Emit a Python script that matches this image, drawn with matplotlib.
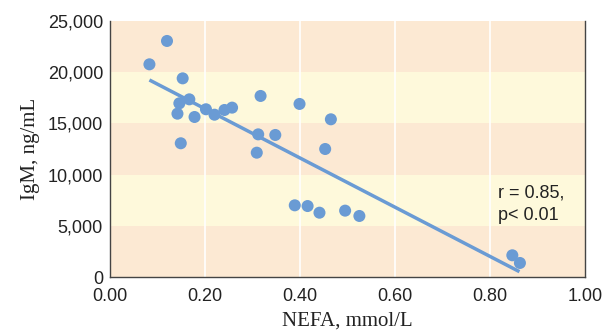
import matplotlib
matplotlib.use("Agg")
import matplotlib.pyplot as plt
from matplotlib.ticker import FuncFormatter

# Data
nefa = [0.083, 0.120, 0.153, 0.146, 0.167, 0.142, 0.178, 0.149, 0.202, 0.220,
        0.241, 0.257, 0.317, 0.312, 0.309, 0.348, 0.399, 0.465, 0.453, 0.389,
        0.416, 0.441, 0.495, 0.525, 0.847, 0.863]
igm = [20770, 23050, 19400, 16960, 17350, 15950, 15625, 13060, 16380, 15850,
       16310, 16540, 17680, 13930, 12140, 13870, 16900, 15400, 12500, 7000,
       6930, 6280, 6480, 5960, 2120, 1370]
fit_x = [0.083, 0.862]
fit_y = [19240, 520]
y_ticks = [0, 5000, 10000, 15000, 20000, 25000]
x_ticks = [0.0, 0.2, 0.4, 0.6, 0.8, 1.0]
bands = [(0, 5000), (5000, 10000), (10000, 15000), (15000, 20000), (20000, 25000)]
annot = "r = 0.85,\np< 0.01"

orange = "#FCE9D3"
yellow = "#FEF9DB"
blue = "#6A9BD4"

fig = plt.figure(figsize=(6.13, 3.30), dpi=100)
ax = fig.add_axes([110/613, 1-277/330, 475/613, 256/330])
ax.set_xlim(0, 1)
ax.set_ylim(0, 25000)

for i, (lo, hi) in enumerate(bands):
    ax.axhspan(lo, hi, color=orange if i % 2 == 0 else yellow, zorder=0, lw=0)
for xv in x_ticks[1:-1]:
    ax.axvline(xv, color="white", lw=1.2, zorder=1)

ax.plot(fit_x, fit_y, color=blue, lw=2.5, solid_capstyle="butt", zorder=2)
ax.scatter(nefa, igm, s=75, color=blue, edgecolors="none", zorder=3)

ax.text(0.817, 7130, annot, fontsize=13, family="Liberation Sans",
        va="center", ha="left", color="#222222", linespacing=1.45)

ax.set_xticks(x_ticks)
ax.set_yticks(y_ticks)
ax.xaxis.set_major_formatter(FuncFormatter(lambda v, p: f"{v:.2f}"))
ax.yaxis.set_major_formatter(FuncFormatter(lambda v, p: f"{int(v):,}"))
ax.tick_params(length=0, labelsize=13, colors="#222222")
ax.tick_params(axis="y", pad=5)
ax.tick_params(axis="x", pad=8)
for lab in ax.get_xticklabels() + ax.get_yticklabels():
    lab.set_family("Liberation Sans")

ax.spines["top"].set_visible(False)
for s in ["left", "bottom", "right"]:
    ax.spines[s].set_color("#444444")
    ax.spines[s].set_linewidth(1.0)

ax.set_xlabel("NEFA, mmol/L", family="Liberation Serif", fontsize=15, color="#222222")
ax.set_ylabel("IgM, ng/mL", family="Liberation Serif", fontsize=15, color="#222222")
ax.xaxis.set_label_coords(0.5, (277 - 321) / 256, transform=ax.transAxes)
ax.yaxis.set_label_coords((31 - 110) / 475, 0.5, transform=ax.transAxes)
ax.xaxis.label.set_va("center")
ax.yaxis.label.set_va("center")

fig.savefig("out.png", dpi=100, facecolor="white")
